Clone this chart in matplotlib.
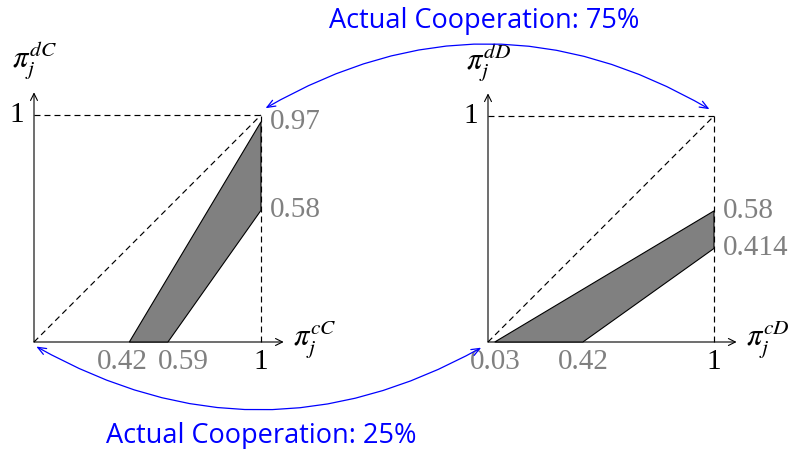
import matplotlib
matplotlib.use("Agg")
import matplotlib.pyplot as plt
from matplotlib.patches import Polygon, ConnectionPatch

plt.rcParams['mathtext.fontset'] = 'stix'
plt.rcParams['lines.scale_dashes'] = False

# shaded regions (x, y vertices) for the two cases
left_region_x = [0.42, 0.59, 1.0, 1.0]
left_region_y = [0.0, 0.0, 0.58, 0.97]
right_region_x = [0.03, 0.42, 1.0, 1.0]
right_region_y = [0.0, 0.0, 0.414, 0.58]

# gray value labels
left_x_ticks = [0.42, 0.59]
left_x_tick_labels = ["0.42", "0.59"]
left_y_ticks = [0.97, 0.58]
left_y_tick_labels = ["0.97", "0.58"]
right_x_ticks = [0.03, 0.42]
right_x_tick_labels = ["0.03", "0.42"]
right_y_ticks = [0.58, 0.414]
right_y_tick_labels = ["0.58", "0.414"]

left_axis_labels = (r"$\pi_j^{cC}$", r"$\pi_j^{dC}$")
right_axis_labels = (r"$\pi_j^{cD}$", r"$\pi_j^{dD}$")
top_caption = "Actual Cooperation: 75%"
bottom_caption = "Actual Cooperation: 25%"

W, H = 794, 449
fig = plt.figure(figsize=(W / 100, H / 100), dpi=100)

serif = "Liberation Serif"
num_size = 21
math_size = 22
gray = "#808080"
dash = (0, (4.3, 2.9))


def panel(x0, unit, rx, ry, xt, xtl, yt, ytl, labels, xlab_shift):
    ax = fig.add_axes([x0 / W, (H - 342) / H, unit / W, unit / H])
    ax.set_xlim(0, 1)
    ax.set_ylim(0, 1)
    ax.axis("off")

    # axes with arrow tips
    ax.annotate("", xy=(1.1, 0), xytext=(0, 0),
                arrowprops=dict(arrowstyle="->,head_length=0.5,head_width=0.25",
                                lw=0.8, color="black", shrinkA=0, shrinkB=0),
                annotation_clip=False)
    ax.annotate("", xy=(0, 1.1), xytext=(0, 0),
                arrowprops=dict(arrowstyle="->,head_length=0.5,head_width=0.25",
                                lw=0.8, color="black", shrinkA=0, shrinkB=0),
                annotation_clip=False)

    # guide lines
    ax.plot([0, 1], [1, 1], color="black", lw=0.85, linestyle=dash, clip_on=False)
    ax.plot([1, 1], [0, 1], color="black", lw=0.85, linestyle=dash, clip_on=False)
    ax.plot([0, 1], [0, 1], color="black", lw=0.85, linestyle=dash, clip_on=False)

    ax.add_patch(Polygon(list(zip(rx, ry)), closed=True, facecolor=gray,
                         edgecolor="black", lw=0.8, clip_on=False, zorder=3))

    # labels
    ax.text(-0.045, 1, "1", fontsize=num_size, family=serif, ha="right", va="center")
    ax.text(1, -0.09, "1", fontsize=num_size, family=serif, ha="center", va="center")
    for x, s, sh in zip(xt, xtl, xlab_shift):
        ax.text(x + sh, -0.09, s, fontsize=num_size, family=serif, color=gray,
                ha="center", va="center")
    for y, s in zip(yt, ytl):
        ax.text(1.04, y, s, fontsize=num_size, family=serif, color=gray,
                ha="left", va="center")
    ax.text(1.14, 0.01, labels[0], fontsize=math_size, ha="left", va="center")
    ax.text(0.0, 1.24, labels[1], fontsize=math_size, ha="center", va="center")
    return ax


ax1 = panel(34, 227, left_region_x, left_region_y, left_x_ticks, left_x_tick_labels,
            left_y_ticks, left_y_tick_labels, left_axis_labels, [-0.03, 0.07])
ax2 = panel(488, 226, right_region_x, right_region_y, right_x_ticks, right_x_tick_labels,
            right_y_ticks, right_y_tick_labels, right_axis_labels, [0.0, 0.0])

# curved arrows linking the panels
blue = "#0000ff"
top = ConnectionPatch(xyA=(1.02, 1.03), coordsA=ax1.transData,
                      xyB=(0.98, 1.03), coordsB=ax2.transData,
                      arrowstyle="<->,head_length=0.5,head_width=0.2",
                      connectionstyle="arc3,rad=-0.29", color=blue, lw=0.9,
                      shrinkA=0, shrinkB=0, mutation_scale=12)
fig.add_artist(top)
bottom = ConnectionPatch(xyA=(0.01, -0.02), coordsA=ax1.transData,
                         xyB=(-0.03, -0.025), coordsB=ax2.transData,
                         arrowstyle="<->,head_length=0.5,head_width=0.2",
                         connectionstyle="arc3,rad=0.28", color=blue, lw=0.9,
                         shrinkA=0, shrinkB=0, mutation_scale=12)
fig.add_artist(bottom)

fig.text(484 / W, 1 - 21 / H, top_caption, fontsize=19.5, family="Open Sans",
         color=blue, ha="center", va="center")
fig.text(261 / W, 1 - 436 / H, bottom_caption, fontsize=19.5, family="Open Sans",
         color=blue, ha="center", va="center")

fig.savefig("out.png", dpi=100)
